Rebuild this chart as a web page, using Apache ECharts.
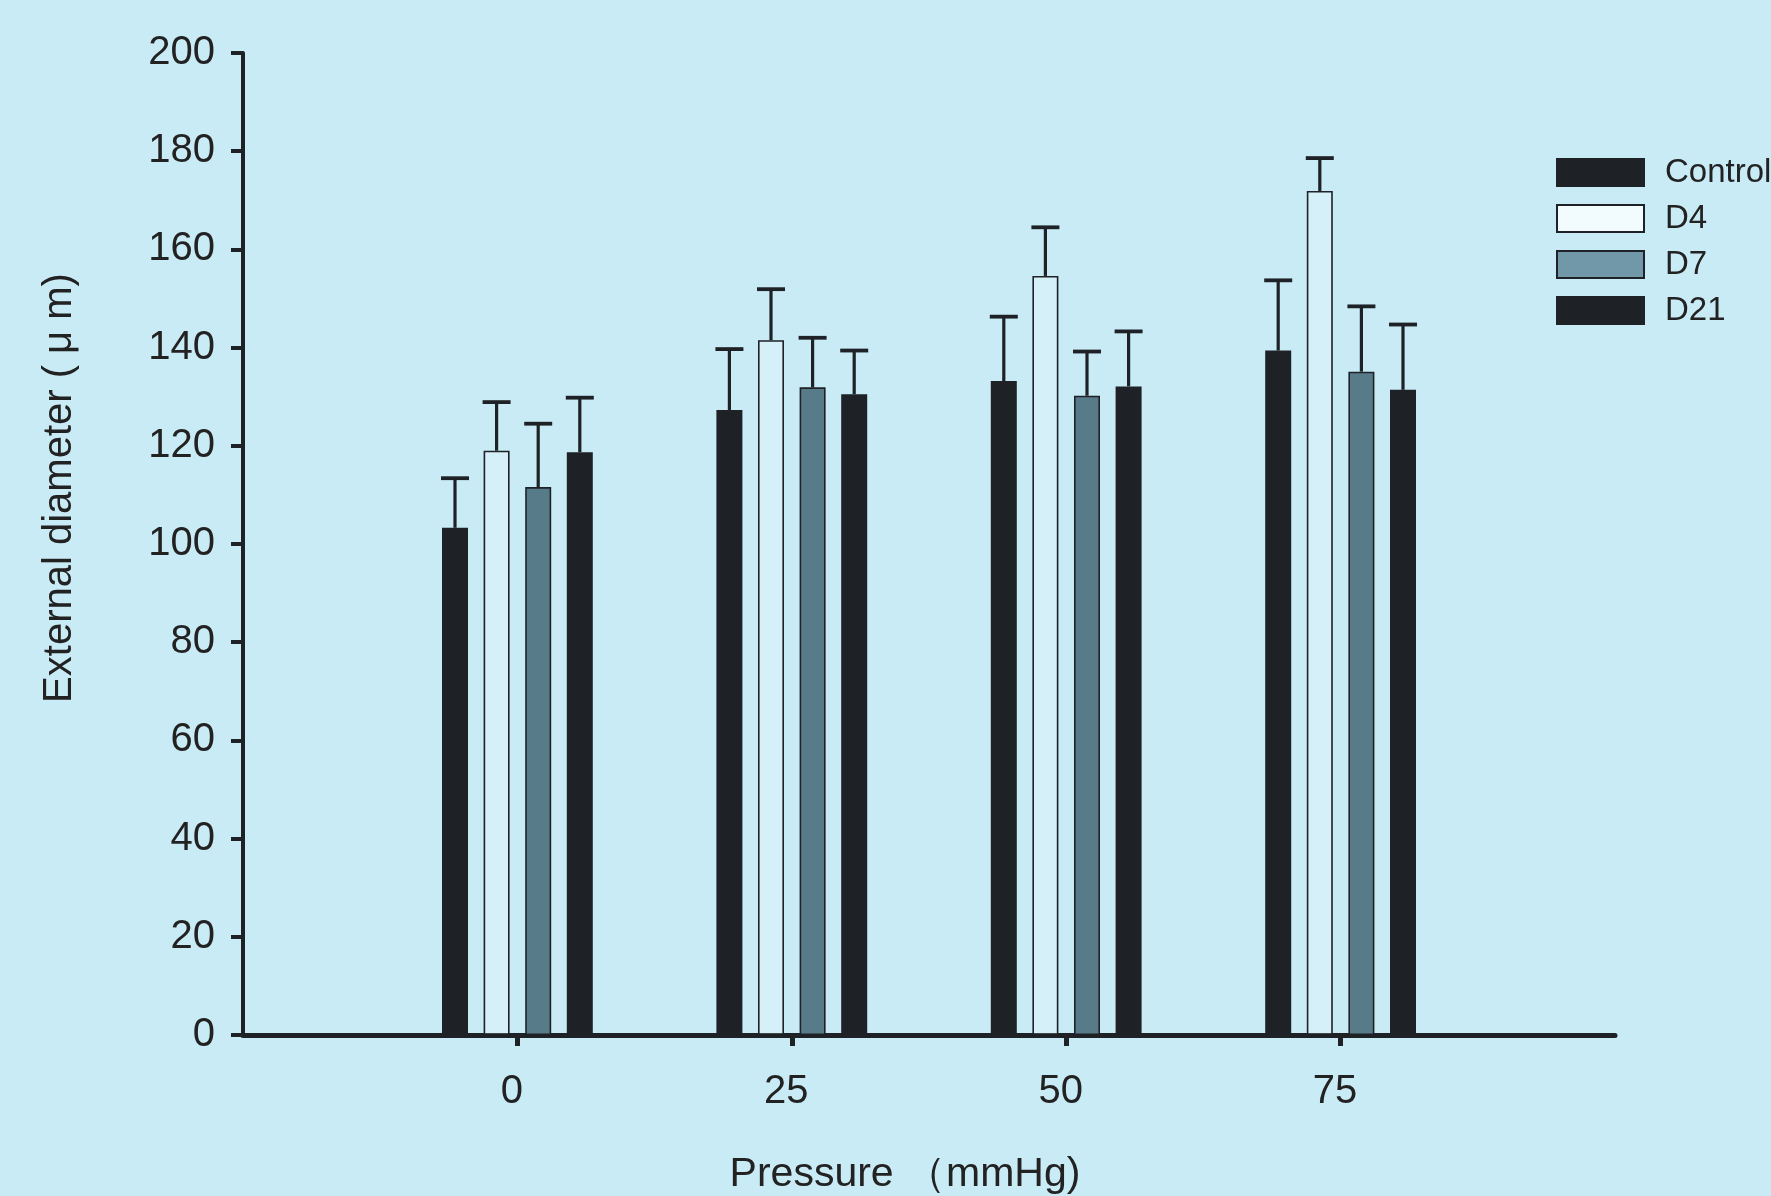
<!DOCTYPE html>
<html><head><meta charset="utf-8">
<script src="https://cdn.jsdelivr.net/npm/echarts@6/dist/echarts.min.js"></script>
<style>html,body{margin:0;padding:0;background:#c9ebf6;}#c{width:1771px;height:1196px;}</style>
</head><body><div id="c"></div>
<script>
// ---- data ----
const categories = ['0', '25', '50', '75'];
const seriesNames = ['Control', 'D4', 'D7', 'D21'];
const controlMean = [103.3, 127.3, 133.2, 139.4];
const controlErr  = [10.1, 12.4, 13.1, 14.3];
const d4Mean      = [119.0, 141.5, 154.6, 171.9];
const d4Err       = [9.9, 10.4, 9.9, 6.7];
const d7Mean      = [111.6, 131.9, 130.2, 135.1];
const d7Err       = [12.9, 10.1, 9.0, 13.3];
const d21Mean     = [118.7, 130.5, 132.1, 131.4];
const d21Err      = [11.1, 8.9, 11.2, 13.3];
const yTicks = [0, 20, 40, 60, 80, 100, 120, 140, 160, 180, 200];

const means = [controlMean, d4Mean, d7Mean, d21Mean];
const errs = [controlErr, d4Err, d7Err, d21Err];

// ---- styles ----
const DARK = '#1e2226';
const fills = [DARK, 'rgba(236,249,253,0.35)', '#587b8a', DARK];
const legendFills = [DARK, '#f2fbfe', '#7098a8', DARK];
const BAR_W = 26, BAR_GAP_PX = 15.6;
const STEP = BAR_W + BAR_GAP_PX;
const CAP = 28;
const FONT = 'Liberation Sans, Arial, Helvetica, sans-serif';

// padded category axis: one empty slot on each side
const axisCats = ['-25'].concat(categories, ['100']);
function pad(arr){ return [null].concat(arr, [null]); }

const series = [];
seriesNames.forEach((name, i) => {
  series.push({
    name: name, type: 'bar', data: pad(means[i]),
    barWidth: BAR_W, barGap: (BAR_GAP_PX / BAR_W * 100).toFixed(1) + '%',
    itemStyle: { color: fills[i], borderColor: DARK, borderWidth: 1.6 },
    emphasis: { disabled: true }, z: 2
  });
});
seriesNames.forEach((name, i) => {
  const data = means[i].map((m, k) => [k + 1, m, m + errs[i][k]]);
  const off = (i - 1.5) * STEP;
  series.push({
    type: 'custom', name: name + ' err', data: data, z: 3, silent: true,
    renderItem: function (params, api) {
      const lo = api.coord([api.value(0), api.value(1)]);
      const hi = api.coord([api.value(0), api.value(2)]);
      const x = lo[0] + off;
      return {
        type: 'group', children: [
          { type: 'line', shape: { x1: x, y1: lo[1], x2: x, y2: hi[1] }, style: { stroke: DARK, lineWidth: 3.2 } },
          { type: 'line', shape: { x1: x - CAP / 2, y1: hi[1], x2: x + CAP / 2, y2: hi[1] }, style: { stroke: DARK, lineWidth: 3.8 } }
        ]
      };
    }
  });
});

const chart = echarts.init(document.getElementById('c'), null, { renderer: 'canvas' });
chart.setOption({
  backgroundColor: '#c9ebf6',
  animation: false,
  textStyle: { fontFamily: FONT },
  grid: { left: 243, right: 156, top: 53, bottom: 161, containLabel: false, outerBoundsMode: 'none' },
  legend: {
    orient: 'vertical', left: 1551, top: 151,
    itemWidth: 87, itemHeight: 27, itemGap: 13,
    icon: 'rect',
    textStyle: { fontSize: 33, color: '#222', padding: [0, 0, 0, 16], fontFamily: FONT },
    data: seriesNames.map((n, i) => ({ name: n, itemStyle: { color: legendFills[i], borderColor: DARK, borderWidth: 2 } }))
  },
  xAxis: {
    type: 'category', data: axisCats, boundaryGap: false,
    axisLine: { lineStyle: { color: DARK, width: 5 } },
    axisTick: { show: true, length: 11, lineStyle: { color: DARK, width: 5 }, interval: (idx) => idx >= 1 && idx <= categories.length },
    axisLabel: { fontSize: 40, color: '#222', margin: 37, padding: [0, 11, 0, 0], interval: (idx) => idx >= 1 && idx <= categories.length },
    splitLine: { show: false },
    name: 'Pressure （mmHg)', nameLocation: 'middle', nameGap: 119,
    nameTextStyle: { fontSize: 41, color: '#222', padding: [0, 48, 0, 0] }
  },
  yAxis: {
    type: 'value', min: yTicks[0], max: yTicks[yTicks.length - 1], interval: yTicks[1] - yTicks[0],
    axisLine: { show: true, lineStyle: { color: DARK, width: 4 } },
    axisTick: { show: true, length: 12, lineStyle: { color: DARK, width: 4 } },
    axisLabel: { fontSize: 40, color: '#222', margin: 28 },
    splitLine: { show: false },
    name: 'External diameter ( μ m)', nameLocation: 'middle', nameGap: 163, nameRotate: 90,
    nameTextStyle: { fontSize: 40, color: '#222', padding: [0, 0, 0, 112] }
  },
  series: series
});
</script>
</body></html>
